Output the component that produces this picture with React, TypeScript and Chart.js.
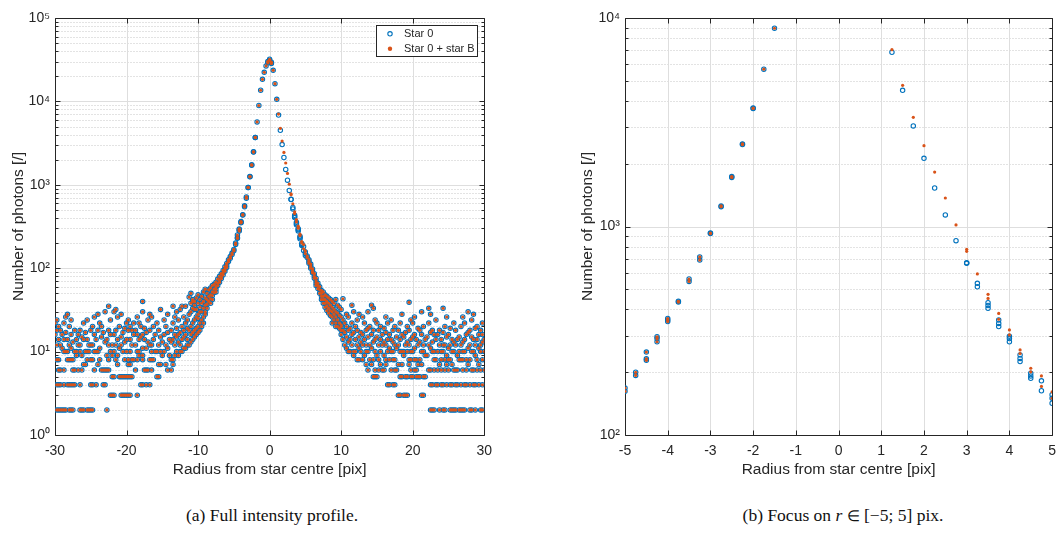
import React, { useEffect, useRef } from "react";
import { Chart, registerables } from "chart.js";

Chart.register(...registerables);

// ---------------------------------------------------------------------------
// Data
// ---------------------------------------------------------------------------

type Level = [number, number[]]; // [photon count, radii where that count occurs]
type Group = [number, number[]]; // [radius, photon counts at that radius]

const SERIES_LABELS = ["Star 0", "Star 0 + star B"];
const X_TITLE = "Radius from star centre [pix]";
const Y_TITLE = "Number of photons [/]";

// Outer background pixels on the negative side, grouped by count level.
const LEFT_WING: Level[] = [
  [2, [-29.75, -29.5, -29.25, -29, -28.75, -28.5, -28, -27.75, -27.5, -26.5, -26.25, -26, -25.5, -25.25, -25, -24.75, -22.75]],
  [3, [-22.25, -22, -21.75, -20.75, -20.5, -20.25, -20, -19.75, -19.5, -18.5]],
  [4, [-29.75, -29.5, -29.25, -28.75, -28.25, -28, -27.75, -27.5, -27.25, -26.5, -25, -24.75, -24.25, -23.25, -23, -18, -17.75, -17.25, -16.75]],
  [5, [-22, -21.75, -21, -20.75, -20.5, -20.25, -20, -19.75, -19.5, -19.25, -15.75, -15.5]],
  [6, [-29.5, -29.25, -28.75, -27.5, -27.25, -26.75, -26.25, -24.5, -23.5, -23.25, -23, -22.75, -22.5, -18.75, -17.5, -17.25, -17, -16.5, -14.25, -13.75]],
  [7, [-26, -25.75, -24, -21.25, -19.75, -19.5, -15.5, -15.25, -14.5, -13.5]],
  [8, [-29.75, -29.5, -28.25, -28, -27.75, -27.5, -25.5, -25, -24.75, -23.75, -22.5, -21.5, -20.25, -19.75, -19.25, -19, -18.5, -17.75, -16.75, -16.5, -16.25, -13.75, -13.5]],
  [9, [-27, -26.25, -22.75, -22, -21.25, -18.25, -17.75, -15, -14, -13.25, -12.75]],
  [10, [-28.75, -28.5, -28.25, -27.25, -27, -26.5, -25.75, -25.5, -25.25, -24.5, -24.25, -24, -22.25, -21.75, -20.5, -20, -19.5, -18.5, -18.25, -16.5, -16, -15.75, -15.25, -14.75, -13, -12.5, -12.25]],
  [11, [-29, -27.75, -23.75, -21, -17.75, -17.25, -14.25, -12, -11.75]],
  [12, [-29.75, -29.25, -28, -26.75, -26.5, -25.25, -25, -24.75, -22.5, -22, -21.5, -20.75, -19.25, -18.75, -16.75, -16.5, -15.5, -14.5, -13.25, -12.5, -11.5, -11.25]],
  [13, [-27.5, -23, -20.25, -17, -15, -13.75, -12.75, -11]],
  [14, [-29.5, -28.75, -28.25, -27, -26, -25.5, -24.25, -22.75, -21.25, -20, -19.5, -18.25, -17.5, -16.25, -14, -13.5, -12.25, -11.5, -10.75]],
  [15, [-26.25, -23.5, -20.75, -18, -15.25, -13, -12, -10.5]],
  [16, [-30, -29, -27.75, -26.75, -24.5, -22.25, -21.75, -19, -18.5, -17.75, -16, -14.75, -13.25, -12.75, -11.75, -11, -10.25]],
  [17, [-28.5, -25.75, -23.25, -20.5, -17.25, -14.25, -12.5, -10.75, -10]],
  [18, [-29.75, -29.25, -27.25, -26.5, -25, -24, -22.5, -21.5, -19.75, -19.25, -18.75, -16.75, -15.5, -13.75, -12, -11.25, -10.5, -9.75]],
  [19, [-20.25, -17.5, -13, -11.5, -10.25]],
  [20, [-29.5, -28, -24.75, -23.5, -21, -19.5, -18, -16.25, -14.5, -12.25, -11, -10, -9.5]],
  [22, [-30, -28.75, -26, -23.75, -20, -19, -18.25, -15.75, -13.5, -11.75, -10.75, -9.75, -9.25]],
  [24, [-29.75, -27.75, -25.5, -22.25, -19.75, -17, -14.75, -12.75, -11.5, -10.5, -9.5]],
  [26, [-28.5, -24.5, -21.25, -18.5, -16.5, -13.25, -12, -10.25, -9.25]],
  [28, [-28.25, -24, -20.75, -16.75, -14.25, -11.25, -10, -9]],
  [30, [-23, -21.75, -17.75, -13, -11, -9.75]],
  [32, [-21.5, -15.25, -12.5, -10.5]],
  [35, [-22.5, -13.5, -12.25, -11.75]],
  [40, [-17.75, -10.75]],
];

// Outer background pixels on the positive side, grouped by count level.
const RIGHT_WING: Level[] = [
  [2, [22.5, 22.75, 23, 23.75, 24.25, 24.5, 25.25, 25.5, 25.75, 26, 26.5, 26.75, 27, 27.25, 28, 28.25, 28.75, 29.5, 29.75]],
  [3, [18, 18.25, 18.75, 19, 19.25, 21.25, 21.5]],
  [4, [16.5, 16.75, 17.25, 17.5, 22.5, 22.75, 23.25, 23.5, 24, 24.25, 24.75, 25.25, 25.5, 26, 26.25, 26.75, 27.25, 27.5, 28, 28.5, 28.75, 29.25, 29.75]],
  [5, [14.5, 14.75, 15, 18.25, 18.5, 19, 19.25, 19.75, 20, 20.5, 20.75, 21, 21.5, 21.75]],
  [6, [13.75, 14.75, 15.25, 15.75, 16, 17, 17.5, 17.75, 19.75, 20.25, 20.5, 22.25, 22.5, 23, 23.5, 24, 24.5, 25, 25.75, 26, 26.25, 27, 27.5, 28.25, 28.5, 29, 29.5, 30]],
  [7, [13.5, 14.25, 15.5, 16.25, 18, 18.5, 19.5, 20.75, 21.25, 23.75, 24.75, 25.5, 27.75, 29.25]],
  [8, [12.25, 12.5, 13, 14, 14.5, 15.25, 16.25, 16.75, 17.25, 17.5, 19.5, 19.75, 20.25, 20.5, 21, 23, 23.25, 24, 24.5, 25, 25.25, 26.5, 26.75, 27, 27.5, 28, 29, 29.75]],
  [9, [11.75, 13.25, 15, 16, 18.75, 21.75, 22, 24.75, 26.25, 28.75]],
  [10, [11, 11.25, 11.75, 12, 12.75, 13.5, 13.75, 14.75, 15.5, 16.5, 17, 17.25, 18.25, 18.5, 18.75, 19.25, 19.75, 20, 21.25, 21.5, 22.75, 23, 23.5, 24, 24.25, 25.5, 25.75, 26.5, 27, 27.25, 28.25, 28.5, 29.5, 30]],
  [11, [10.75, 12.5, 14.25, 16.75, 17.75, 20.25, 22.5, 25, 27.75, 29.25]],
  [12, [10.5, 11.5, 12.25, 13, 13.5, 14, 15.25, 15.75, 16.25, 17.5, 18, 19, 19.5, 20.75, 21.5, 22.25, 23.75, 24.25, 24.5, 25.25, 26, 26.75, 28, 28.75, 29.5]],
  [13, [11, 12.75, 14.5, 16, 17.25, 19.25, 21, 22.75, 25.75, 27, 29.75]],
  [14, [10.25, 11.25, 12, 13.25, 14.75, 15.5, 16.5, 17, 18.25, 19.75, 20.5, 21.75, 23.25, 24, 25.5, 26.25, 27.25, 28.5, 29, 30]],
  [15, [10.75, 12.5, 13.75, 15, 17.75, 18.75, 20, 22, 24.75, 26.5, 28.25]],
  [16, [10, 11.5, 13, 14.25, 15.75, 16.75, 18.5, 20.25, 21.25, 23, 23.5, 25, 27.5, 29.25, 29.75]],
  [17, [10.5, 11.75, 12.75, 16.25, 19, 22.5, 24.25, 27.75]],
  [18, [10.25, 11, 12.25, 13.5, 14.5, 15.25, 17.25, 18, 19.5, 21, 22.75, 23.75, 26, 28, 29.5]],
  [19, [11.25, 13.75, 16, 20.75, 25.25, 28.75]],
  [20, [10, 10.75, 12, 14, 15.5, 17.5, 19.25, 21.5, 24.5, 26.75, 29]],
  [22, [10.5, 11.5, 13.25, 15, 16.5, 18.25, 20, 22.25, 25.75, 27.25, 29.75]],
  [24, [10.25, 12.25, 14.75, 17, 19.75, 23.25, 28.25]],
  [26, [11, 13, 16.25, 20.25, 24.75, 27]],
  [28, [10.75, 12.5, 18.5, 22.5, 28.5]],
  [30, [11.75, 13.75, 21.25, 27.75]],
  [33, [14.5, 22.25, 24.25]],
  [36, [11.5, 14.25]],
  [39, [19.5]],
  [43, [10.25]],
];

// Inner profile, identical for both series.
const CORE_SHARED: Group[] = [
  [-11.25, [45]], [-11, [38, 50]], [-10.75, [33, 42]], [-10.5, [40, 36]], [-10.25, [44, 32]],
  [-10, [38, 48, 25]], [-9.75, [42, 34]], [-9.5, [46, 38, 30]], [-9.25, [52, 40, 33]],
  [-9, [56, 44, 36, 30]], [-8.75, [50, 42, 37, 33]], [-8.5, [55, 46, 40]], [-8.25, [58, 48, 43, 38]],
  [-8, [62, 52, 47, 42]], [-7.75, [64, 56, 51]], [-7.5, [68, 60, 56, 52]], [-7.25, [74, 66, 62]],
  [-7, [80, 72, 68]], [-6.75, [86, 79, 75]], [-6.5, [94, 88, 83]], [-6.25, [104, 97, 92]],
  [-6, [114, 108, 102]], [-5.75, [126, 120]], [-5.5, [138, 132]], [-5.25, [152, 146]],
  [-5, [168, 162]], [-4.75, [200, 193]], [-4.5, [250, 232, 228]], [-4.25, [296, 290, 280]],
  [-4, [362, 356, 350]], [-3.75, [438, 434]], [-3.5, [560, 545]], [-3.25, [715, 690]],
  [-3, [930, 925]], [-2.75, [1255, 1245]], [-2.5, [1735, 1720]], [-2.25, [2490, 2470]],
  [-2, [3700, 3680]], [-1.75, [5680]], [-1.5, [8930]], [-1.25, [13600]], [-1, [18400]],
  [-0.75, [22300]], [-0.5, [26600]], [-0.25, [30000, 29000]], [0, [32000, 31000]],
  [0.25, [29500, 28500]], [0.5, [23600]], [0.75, [16300]], [1, [10600]],
  [5.25, [140, 134]], [5.5, [126, 120, 115]], [5.75, [112, 106, 100]], [6, [98, 92, 88]],
  [6.25, [86, 80, 76]], [6.5, [76, 70, 66, 62]], [6.75, [66, 62, 57]], [7, [60, 55, 50]],
  [7.25, [54, 50, 46, 42]], [7.5, [52, 46, 42, 38]], [7.75, [48, 42, 38, 34]], [8, [46, 40, 35, 31]],
  [8.25, [44, 38, 33, 29]], [8.5, [42, 36, 31, 27]], [8.75, [40, 34, 30, 26, 22]], [9, [38, 32, 28, 24]],
  [9.25, [42, 30, 26, 22, 20]], [9.5, [36, 29, 24, 20]], [9.75, [34, 27, 22, 19]], [10, [32, 26, 21, 18]],
];

// Profile on the side of star B: star 0 alone.
const CORE_STAR0: Group[] = [
  [1.25, [6850]], [1.5, [4500]], [1.75, [3035]], [2, [2124]], [2.25, [1530]], [2.5, [1136]],
  [2.75, [855]], [3, [671, 666]], [3.25, [534, 514]], [3.5, [431, 418, 405]],
  [3.75, [356, 343, 331]], [4, [298, 290, 280]], [4.25, [242, 233, 225]],
  [4.5, [198, 192, 187]], [4.75, [182, 163]], [5, [156, 150, 142]],
];

// Profile on the side of star B: star 0 plus star B.
const CORE_STAR0_B: Group[] = [
  [1.25, [7050]], [1.5, [4755]], [1.75, [3340]], [2, [2442]], [2.25, [1825]], [2.5, [1370]],
  [2.75, [1017]], [3, [777, 760]], [3.25, [592]], [3.5, [473, 452]],
  [3.75, [383, 359]], [4, [319, 302]], [4.25, [256, 246]],
  [4.5, [209, 201]], [4.75, [192, 171]], [5, [161, 150]],
];

const FULL_X_TICKS = [-30, -20, -10, 0, 10, 20, 30];
const FULL_X_LABELS = ["-30", "-20", "-10", "0", "10", "20", "30"];
const FULL_Y_TICKS = [1, 10, 100, 1000, 10000, 100000];
const FULL_Y_LABELS = ["10⁰", "10¹", "10²", "10³", "10⁴", "10⁵"];

const ZOOM_X_TICKS = [-5, -4, -3, -2, -1, 0, 1, 2, 3, 4, 5];
const ZOOM_X_LABELS = ["-5", "-4", "-3", "-2", "-1", "0", "1", "2", "3", "4", "5"];
const ZOOM_Y_TICKS = [100, 1000, 10000];
const ZOOM_Y_LABELS = ["10²", "10³", "10⁴"];

// ---------------------------------------------------------------------------
// Styling
// ---------------------------------------------------------------------------

const BLUE = "#0072BD";
const ORANGE = "#D95319";
const INK = "#262626";
const MAJOR_GRID = "#dedede";
const MINOR_GRID = "#c6c6c6";
const SANS = "'Liberation Sans', Arial, Helvetica, sans-serif";
const SERIF = "'Liberation Serif', 'Times New Roman', serif";

Chart.defaults.font.family = SANS;
Chart.defaults.color = INK;

const levelPoints = (rows: Level[]) =>
  rows.flatMap(([count, radii]) => radii.map((r) => ({ x: r, y: count })));
const groupPoints = (rows: Group[]) =>
  rows.flatMap(([r, counts]) => counts.map((c) => ({ x: r, y: c })));

const sharedPoints = [...levelPoints(LEFT_WING), ...groupPoints(CORE_SHARED), ...levelPoints(RIGHT_WING)];
const star0Points = [...sharedPoints, ...groupPoints(CORE_STAR0)];
const star0BPoints = [...sharedPoints, ...groupPoints(CORE_STAR0_B)];

interface Panel {
  xMin: number;
  xMax: number;
  xTicks: number[];
  xLabels: string[];
  yMin: number;
  yMax: number;
  yTicks: number[];
  yLabels: string[];
  padLeft: number;
  padRight: number;
  yTitlePad: number;
  legend: boolean;
}

const FULL_PANEL: Panel = {
  xMin: -30, xMax: 30, xTicks: FULL_X_TICKS, xLabels: FULL_X_LABELS,
  yMin: 1, yMax: 100000, yTicks: FULL_Y_TICKS, yLabels: FULL_Y_LABELS,
  padLeft: 0, padRight: 9, yTitlePad: 9.2, legend: true,
};

const ZOOM_PANEL: Panel = {
  xMin: -5, xMax: 5, xTicks: ZOOM_X_TICKS, xLabels: ZOOM_X_LABELS,
  yMin: 100, yMax: 10000, yTicks: ZOOM_Y_TICKS, yLabels: ZOOM_Y_LABELS,
  padLeft: 38, padRight: 4, yTitlePad: 8.2, legend: false,
};

// Grid, box and inward tick marks, drawn beneath the markers.
const framePlugin = {
  id: "frame",
  beforeDatasetsDraw(chart: any, _args: any, opts: any) {
    const { ctx, chartArea } = chart;
    const { left, right, top, bottom } = chartArea;
    const xs = chart.scales.x;
    const ys = chart.scales.y;
    const snap = (v: number) => Math.round(v) + 0.5;
    const decades: number[] = opts.yTicks;
    const minors: number[] = [];
    for (let i = 0; i < decades.length - 1; i++) {
      for (let k = 2; k <= 9; k++) minors.push(decades[i] * k);
    }
    const L = snap(left);
    const R = snap(right);
    const T = snap(top);
    const B = snap(bottom);

    ctx.save();
    ctx.lineWidth = 1;

    ctx.strokeStyle = MINOR_GRID;
    ctx.setLineDash([1, 2]);
    ctx.beginPath();
    for (const v of minors) {
      const py = snap(ys.getPixelForValue(v));
      ctx.moveTo(L, py);
      ctx.lineTo(R, py);
    }
    ctx.stroke();

    ctx.setLineDash([]);
    ctx.strokeStyle = MAJOR_GRID;
    ctx.beginPath();
    for (const v of decades) {
      const py = snap(ys.getPixelForValue(v));
      ctx.moveTo(L, py);
      ctx.lineTo(R, py);
    }
    for (const v of opts.xTicks as number[]) {
      const px = snap(xs.getPixelForValue(v));
      ctx.moveTo(px, T);
      ctx.lineTo(px, B);
    }
    ctx.stroke();

    ctx.strokeStyle = INK;
    ctx.beginPath();
    ctx.moveTo(L, T);
    ctx.lineTo(R, T);
    ctx.lineTo(R, B);
    ctx.lineTo(L, B);
    ctx.closePath();
    for (const v of opts.xTicks as number[]) {
      const px = snap(xs.getPixelForValue(v));
      ctx.moveTo(px, B);
      ctx.lineTo(px, B - 5);
      ctx.moveTo(px, T);
      ctx.lineTo(px, T + 5);
    }
    for (const v of decades) {
      const py = snap(ys.getPixelForValue(v));
      ctx.moveTo(L, py);
      ctx.lineTo(L + 5, py);
      ctx.moveTo(R, py);
      ctx.lineTo(R - 5, py);
    }
    for (const v of minors) {
      const py = snap(ys.getPixelForValue(v));
      ctx.moveTo(L, py);
      ctx.lineTo(L + 3, py);
      ctx.moveTo(R, py);
      ctx.lineTo(R - 3, py);
    }
    ctx.stroke();
    ctx.restore();
  },
};

// Boxed legend in the upper right corner of the plot area.
const legendPlugin = {
  id: "boxLegend",
  afterDatasetsDraw(chart: any, _args: any, opts: any) {
    if (!opts.show) return;
    const { ctx, chartArea } = chart;
    const w = 101;
    const h = 31;
    const x0 = Math.round(chartArea.right - 108) + 0.5;
    const y0 = Math.round(chartArea.top + 7) + 0.5;
    ctx.save();
    ctx.fillStyle = "#ffffff";
    ctx.fillRect(x0, y0, w, h);
    ctx.strokeStyle = INK;
    ctx.lineWidth = 1;
    ctx.strokeRect(x0, y0, w, h);
    ctx.font = `11px ${SANS}`;
    ctx.textBaseline = "middle";
    ctx.textAlign = "left";
    chart.data.datasets.forEach((ds: any, i: number) => {
      const cy = y0 + 8.3 + i * 15;
      const mx = x0 + 13.5;
      ctx.beginPath();
      if (ds.pointBorderWidth > 0) {
        ctx.arc(mx, cy, ds.pointRadius, 0, Math.PI * 2);
        ctx.lineWidth = ds.pointBorderWidth;
        ctx.strokeStyle = ds.pointBorderColor;
        ctx.stroke();
      } else {
        ctx.arc(mx, cy, ds.pointRadius + 0.6, 0, Math.PI * 2);
        ctx.fillStyle = ds.pointBackgroundColor;
        ctx.fill();
      }
      ctx.fillStyle = INK;
      ctx.fillText(ds.label, x0 + 27.5, cy + 0.5);
    });
    ctx.restore();
  },
};

function buildConfig(p: Panel): any {
  const inRange = (pt: { x: number }) => pt.x >= p.xMin && pt.x <= p.xMax;
  return {
    type: "scatter",
    data: {
      datasets: [
        {
          label: SERIES_LABELS[0],
          data: star0Points.filter(inRange),
          showLine: false,
          pointRadius: 2.2,
          pointBorderWidth: 1.1,
          pointBorderColor: BLUE,
          pointBackgroundColor: "rgba(0,0,0,0)",
          borderColor: BLUE,
          backgroundColor: "rgba(0,0,0,0)",
          order: 2,
        },
        {
          label: SERIES_LABELS[1],
          data: star0BPoints.filter(inRange),
          showLine: false,
          pointRadius: 1.6,
          pointBorderWidth: 0,
          pointBorderColor: ORANGE,
          pointBackgroundColor: ORANGE,
          borderColor: ORANGE,
          backgroundColor: ORANGE,
          order: 1,
        },
      ],
    },
    options: {
      responsive: false,
      animation: false,
      events: [],
      layout: { padding: { left: p.padLeft, right: p.padRight, top: 18, bottom: 0 } },
      plugins: {
        legend: { display: false },
        tooltip: { enabled: false },
        frame: { xTicks: p.xTicks, yTicks: p.yTicks },
        boxLegend: { show: p.legend },
      },
      scales: {
        x: {
          type: "linear",
          position: "bottom",
          min: p.xMin,
          max: p.xMax,
          grid: { display: false, drawTicks: false, tickLength: 0 },
          border: { display: false },
          afterBuildTicks: (s: any) => {
            s.ticks = p.xTicks.map((value) => ({ value }));
          },
          afterFit: (s: any) => {
            s.height = 45;
          },
          ticks: {
            autoSkip: false,
            maxRotation: 0,
            padding: 8,
            color: INK,
            font: { size: 14 },
            callback: (_v: any, i: number) => p.xLabels[i] ?? "",
          },
          title: {
            display: true,
            text: X_TITLE,
            color: INK,
            font: { size: 15.5 },
            padding: { top: 0, bottom: 1.2 },
          },
        },
        y: {
          type: "logarithmic",
          position: "left",
          min: p.yMin,
          max: p.yMax,
          grid: { display: false, drawTicks: false, tickLength: 0 },
          border: { display: false },
          afterBuildTicks: (s: any) => {
            s.ticks = p.yTicks.map((value) => ({ value, major: true }));
          },
          afterFit: (s: any) => {
            s.width = 55;
          },
          ticks: {
            autoSkip: false,
            padding: 5,
            color: INK,
            font: { size: 14 },
            callback: (_v: any, i: number) => p.yLabels[i] ?? "",
          },
          title: {
            display: true,
            text: Y_TITLE,
            color: INK,
            font: { size: 15.5 },
            padding: { top: p.yTitlePad, bottom: 0 },
          },
        },
      },
    },
    plugins: [framePlugin, legendPlugin],
  };
}

const captionStyle = (cx: number): React.CSSProperties => ({
  position: "absolute",
  left: cx - 250,
  width: 500,
  top: 504,
  textAlign: "center",
  fontFamily: SERIF,
  fontSize: 17.5,
  lineHeight: "22px",
  color: "#111",
  whiteSpace: "nowrap",
});

export default function App() {
  const fullRef = useRef<HTMLCanvasElement>(null);
  const zoomRef = useRef<HTMLCanvasElement>(null);

  useEffect(() => {
    const charts = [
      new Chart(fullRef.current as HTMLCanvasElement, buildConfig(FULL_PANEL)),
      new Chart(zoomRef.current as HTMLCanvasElement, buildConfig(ZOOM_PANEL)),
    ];
    return () => charts.forEach((c) => c.destroy());
  }, []);

  return (
    <div
      style={{
        position: "absolute",
        left: 0,
        top: 0,
        width: 1064,
        height: 535,
        background: "#ffffff",
        overflow: "hidden",
      }}
    >
      <canvas ref={fullRef} width={500} height={480} style={{ position: "absolute", left: 0, top: 0 }} />
      <canvas ref={zoomRef} width={532} height={480} style={{ position: "absolute", left: 532, top: 0 }} />
      <div style={captionStyle(272)}>(a) Full intensity profile.</div>
      <div style={captionStyle(843)}>
        (b) Focus on <i>r</i> <span style={{ fontSize: 15 }}>∈</span> [−5; 5] pix.
      </div>
    </div>
  );
}
